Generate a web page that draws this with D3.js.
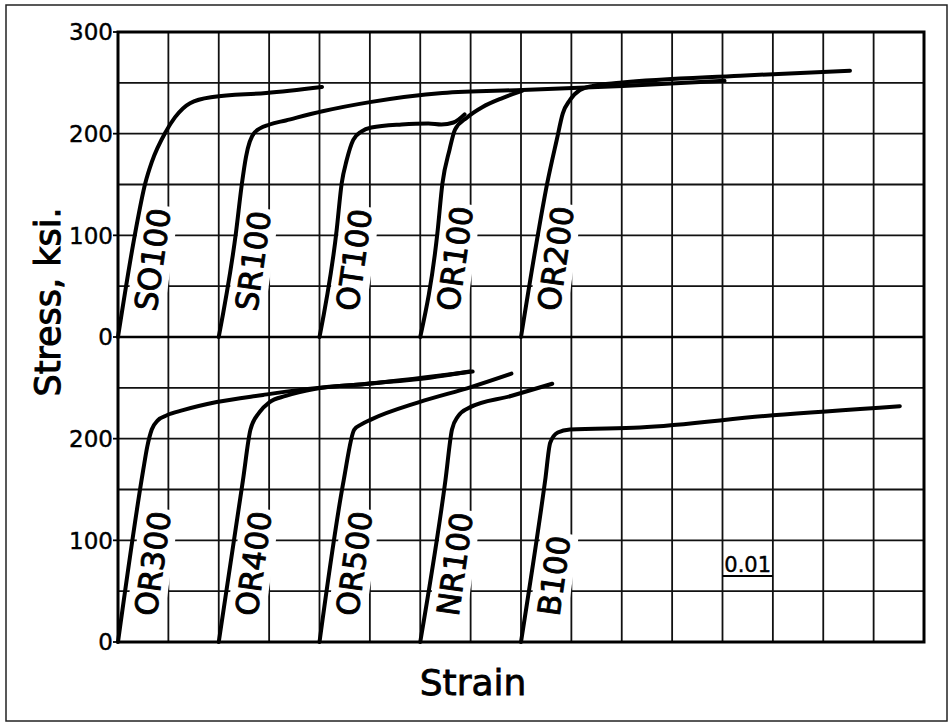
<!DOCTYPE html>
<html>
<head>
<meta charset="utf-8">
<script src="https://cdn.jsdelivr.net/npm/d3@7"></script>
<style>
  body { margin: 0; background: #fff; }
  text { font-family: "DejaVu Sans", sans-serif; fill: #000; }
</style>
</head>
<body>
<script>
// specimen names, upper panel then lower panel
var topNames = ["SO100", "SR100", "OT100", "OR100", "OR200"];
var bottomNames = ["OR300", "OR400", "OR500", "NR100", "B100"];
// every curve is shifted 0.02 strain right of the one before it
var origins = [0, 0.02, 0.04, 0.06, 0.08];

// [strain from the curve's own origin, stress ksi]
var so100 = [[0,0],[0.0034,102],[0.0054,151],[0.0067,172],[0.0095,202],[0.0113,216],[0.0143,230],[0.0188,236],[0.0294,240],[0.0405,246]];
var sr100 = [[0,0],[0.0034,102],[0.0046,151],[0.0054,177],[0.0071,201],[0.0101,209],[0.0133,213],[0.0206,222],[0.0300,231],[0.0444,240],[0.0603,243],[0.0802,247],[0.1004,252]];
var ot100 = [[0,0],[0.0034,105],[0.0044,151],[0.0054,174],[0.0067,194],[0.0083,202],[0.0103,206],[0.0163,209],[0.0216,210],[0.0242,209],[0.0266,211],[0.0288,219]];
var or100 = [[0,0],[0.0034,102],[0.0044,151],[0.0058,184],[0.0069,204],[0.0093,216],[0.0123,226],[0.0163,235],[0.0202,242]];
var or200 = [[0,0],[0.0034,102],[0.0052,151],[0.0071,194],[0.0083,220],[0.0097,233],[0.0117,243],[0.0143,247],[0.0196,250],[0.0435,257],[0.0653,262]];

var or300 = [[0,0],[0.0050,169],[0.0058,192],[0.0067,209],[0.0079,218],[0.0097,223],[0.0129,228],[0.0196,236],[0.0288,243],[0.0361,248],[0.0494,254],[0.0619,260],[0.0698,266]];
var or400 = [[0,0],[0.0048,159],[0.0063,209],[0.0081,226],[0.0101,236],[0.0133,242],[0.0192,249],[0.0300,254],[0.0504,266]];
var or500 = [[0,0],[0.0048,159],[0.0069,209],[0.0083,214],[0.0103,219],[0.0198,236],[0.0302,251],[0.0381,264]];
var nr100 = [[0,0],[0.0050,159],[0.0063,209],[0.0075,222],[0.0095,230],[0.0180,242],[0.0262,254]];
var b100 = [[0,0],[0.0048,159],[0.0058,196],[0.0073,206],[0.0097,209],[0.0236,211],[0.0500,223],[0.0752,232]];

var topCurves = [so100, sr100, ot100, or100, or200];
var bottomCurves = [or300, or400, or500, nr100, b100];

var topTicks = [0, 100, 200, 300];
var bottomTicks = [0, 100, 200];
var gridStrain = 0.01;   // one column, marked "0.01"
var gridStress = 50;

var svg = d3.select("body").append("svg")
    .attr("width", 952)
    .attr("height", 727);

// outer frame of the figure
svg.append("rect")
    .attr("x", 6).attr("y", 5)
    .attr("width", 941).attr("height", 716)
    .attr("fill", "none")
    .attr("stroke", "#222")
    .attr("stroke-width", 1.5);

var x = d3.scaleLinear().domain([0, 0.16]).range([118, 924]);
var yTop = d3.scaleLinear().domain([0, 300]).range([337, 32]);
var yBot = d3.scaleLinear().domain([0, 300]).range([642, 337]);

var grid = svg.append("g").attr("stroke", "#111").attr("stroke-width", 1.8);

grid.selectAll(".v")
    .data(d3.range(0, 17).map(function (i) { return i * gridStrain; }))
    .enter().append("line")
    .attr("x1", function (d) { return x(d); })
    .attr("x2", function (d) { return x(d); })
    .attr("y1", yTop(300))
    .attr("y2", yBot(0));

grid.selectAll(".ht")
    .data(d3.range(0, 7).map(function (i) { return i * gridStress; }))
    .enter().append("line")
    .attr("x1", x(0)).attr("x2", x(0.16))
    .attr("y1", function (d) { return yTop(d); })
    .attr("y2", function (d) { return yTop(d); });

grid.selectAll(".hb")
    .data(d3.range(0, 6).map(function (i) { return i * gridStress; }))
    .enter().append("line")
    .attr("x1", x(0)).attr("x2", x(0.16))
    .attr("y1", function (d) { return yBot(d); })
    .attr("y2", function (d) { return yBot(d); });

// heavier border and panel divider
svg.append("rect")
    .attr("x", x(0)).attr("y", yTop(300))
    .attr("width", x(0.16) - x(0))
    .attr("height", yBot(0) - yTop(300))
    .attr("fill", "none")
    .attr("stroke", "#000")
    .attr("stroke-width", 3);
svg.append("line")
    .attr("x1", x(0)).attr("x2", x(0.16))
    .attr("y1", yTop(0)).attr("y2", yTop(0))
    .attr("stroke", "#000").attr("stroke-width", 2.6);

// tick labels
function ticks(values, y) {
  svg.selectAll(null).data(values).enter().append("line")
      .attr("x1", x(0) - 5).attr("x2", x(0))
      .attr("y1", function (d) { return y(d); })
      .attr("y2", function (d) { return y(d); })
      .attr("stroke", "#000").attr("stroke-width", 1.8);
  svg.selectAll(null).data(values).enter().append("text")
      .attr("x", x(0) - 5)
      .attr("y", function (d) { return y(d); })
      .attr("dy", "0.36em")
      .attr("text-anchor", "end")
      .style("font-size", "23px")
      .style("stroke", "#000").style("stroke-width", 0.4)
      .text(function (d) { return d; });
}
ticks(topTicks, yTop);
ticks(bottomTicks, yBot);

// curve labels, tilted along the elastic line, with white backing that breaks the grid
function labels(names, y) {
  names.forEach(function (name, i) {
    var lg = svg.append("g")
        .attr("transform", "translate(" + (x(origins[i] + 0.0054)) + "," + y(26) + ") rotate(-82)");
    var bg = lg.append("rect").attr("fill", "#fff");
    var t = lg.append("text")
        .attr("dy", "0.36em")
        .style("font-size", "31px")
        .style("stroke", "#000").style("stroke-width", 0.9)
        .text(name);
    var b = t.node().getBBox();
    bg.attr("x", b.x - 3).attr("y", b.y - 1)
      .attr("width", b.width + 6).attr("height", b.height + 2);
  });
}
labels(topNames, yTop);
labels(bottomNames, yBot);

// stress-strain curves
function curves(list, y) {
  var line = d3.line()
      .x(function (d) { return d[0]; })
      .y(function (d) { return d[1]; })
      .curve(d3.curveMonotoneX);
  list.forEach(function (data, i) {
    var pts = data.map(function (p) { return [x(origins[i] + p[0]), y(p[1])]; });
    svg.append("path")
        .attr("d", line(pts))
        .attr("fill", "none")
        .attr("stroke", "#000")
        .attr("stroke-width", 4)
        .attr("stroke-linecap", "round")
        .attr("stroke-linejoin", "round");
  });
}
curves(topCurves, yTop);
curves(bottomCurves, yBot);

// scale marker for one grid column
svg.append("text")
    .attr("x", x(0.125))
    .attr("y", yBot(69))
    .attr("text-anchor", "middle")
    .style("font-size", "21px")
    .style("stroke", "#000").style("stroke-width", 0.4)
    .text(gridStrain.toFixed(2));
svg.append("line")
    .attr("x1", x(0.12)).attr("x2", x(0.12 + gridStrain))
    .attr("y1", yBot(65)).attr("y2", yBot(65))
    .attr("stroke", "#000").attr("stroke-width", 2);

// axis titles
svg.append("text")
    .attr("transform", "translate(60," + 302 + ") rotate(-90)")
    .attr("text-anchor", "middle")
    .style("font-size", "35px")
    .style("stroke", "#000").style("stroke-width", 1)
    .text("Stress, ksi.");

svg.append("text")
    .attr("x", (x(0) + x(0.16)) / 2 - 48)
    .attr("y", 695)
    .attr("text-anchor", "middle")
    .style("font-size", "36px")
    .style("stroke", "#000").style("stroke-width", 0.8)
    .text("Strain");
</script>
</body>
</html>
